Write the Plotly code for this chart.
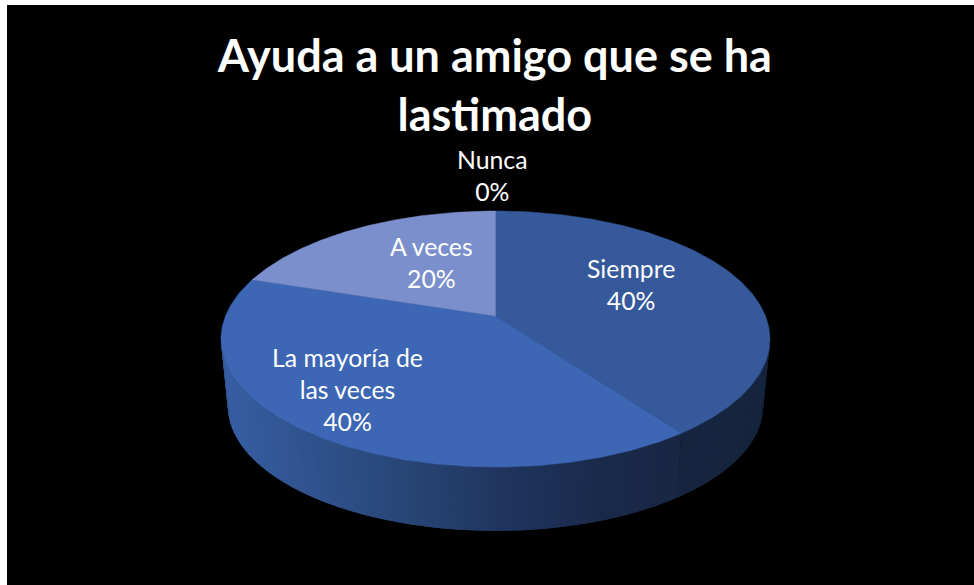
import numpy as np
import plotly.graph_objects as go

# --- data -------------------------------------------------------------
categories = ["Siempre", "La mayoría de<br>las veces", "A veces", "Nunca"]
values = [40, 40, 20, 0]
slice_colors = ["#35599A", "#3D67B4", "#7A8FCB", "#8FA2D4"]
title_text = "Ayuda a un amigo que se ha<br>lastimado"
label_xy = [(631, 284), (347, 389), (431, 262), (492, 175)]

# --- projection of the tilted disc ------------------------------------
CX, TOP_Y, A, B, K = 495.5, 316.0, 270.0, 123.9, 0.18
SCALE, BOT_Y = 0.975, 383.5


def project(theta_deg, s=1.0, ay=TOP_Y):
    t = np.radians(theta_deg)
    w = 1 + K * np.cos(t)
    return CX + s * A * np.sin(t) / w, ay - s * B * np.cos(t) / w


def mix(stops, x):
    xs = [p[0] for p in stops]
    return "rgb(%d,%d,%d)" % tuple(
        np.interp(x, xs, [p[1][i] for p in stops]) for i in range(3))


SIDE_STOPS = [
    [(680, (22, 37, 64)), (770, (22, 37, 62))],
    [(228, (55, 94, 162)), (300, (49, 84, 143)), (400, (41, 70, 119)),
     (500, (32, 54, 95)), (600, (26, 42, 75)), (680, (24, 39, 67))],
]

fig = go.Figure()

# Angular extents from the values
total = sum(values)
edges = np.concatenate([[0], np.cumsum(values) / total * 360])

# Side wall, as thin overlapping strips between the top and bottom rims
T0, T1 = 100.4, 259.6
for i in range(2):
    a0, a1 = max(edges[i], T0), min(edges[i + 1], T1)
    n = max(2, int((a1 - a0) / 1.0))
    grid = np.linspace(a0, a1, n + 1)
    for j, (t0, t1) in enumerate(zip(grid[:-1], grid[1:])):
        end = t1 if j == n - 1 else t1 + 1.0
        tt = np.linspace(t0, end, 4)
        xt, yt = project(tt)
        xb, yb = project(tt[::-1], SCALE, BOT_Y)
        col = mix(SIDE_STOPS[i], float(np.mean(xt)))
        fig.add_trace(go.Scatter(
            x=np.concatenate([xt, xb, xt[:1]]),
            y=np.concatenate([yt, yb, yt[:1]]),
            mode="lines", fill="toself", fillcolor=col,
            line=dict(color=col, width=0), hoverinfo="skip"))

# Top face
for i, cat in enumerate(categories):
    if values[i] == 0:
        continue
    tt = np.linspace(edges[i], edges[i + 1], 200)
    xs, ys = project(tt)
    fig.add_trace(go.Scatter(
        x=np.concatenate([[CX], xs, [CX]]),
        y=np.concatenate([[TOP_Y], ys, [TOP_Y]]),
        mode="lines", fill="toself", fillcolor=slice_colors[i],
        line=dict(color=slice_colors[i], width=0.5),
        name=cat.replace("<br>", " "), text=f"{values[i]}%", hoverinfo="name+text"))

# Labels
for cat, val, (lx, ly) in zip(categories, values, label_xy):
    fig.add_annotation(x=lx, y=ly, xref="x", yref="y", showarrow=False,
                       text=f"{cat}<br>{val}%", align="center",
                       font=dict(family="Lato", size=24.8, color="white"))

fig.update_layout(
    width=974, height=585,
    margin=dict(l=7, r=0, t=5, b=0),
    paper_bgcolor="white", plot_bgcolor="black",
    showlegend=False,
    title=dict(text=title_text, x=0.5045, xanchor="center", xref="paper",
               y=0.8766, yanchor="top",
               font=dict(family="Lato", size=45, color="white", weight="bold")),
    xaxis=dict(range=[7, 974], visible=False, fixedrange=True),
    yaxis=dict(range=[585, 5], visible=False, fixedrange=True),
)
fig.write_html("out.html", config=dict(displayModeBar=False),
               post_script="document.body.style.margin='0';")
